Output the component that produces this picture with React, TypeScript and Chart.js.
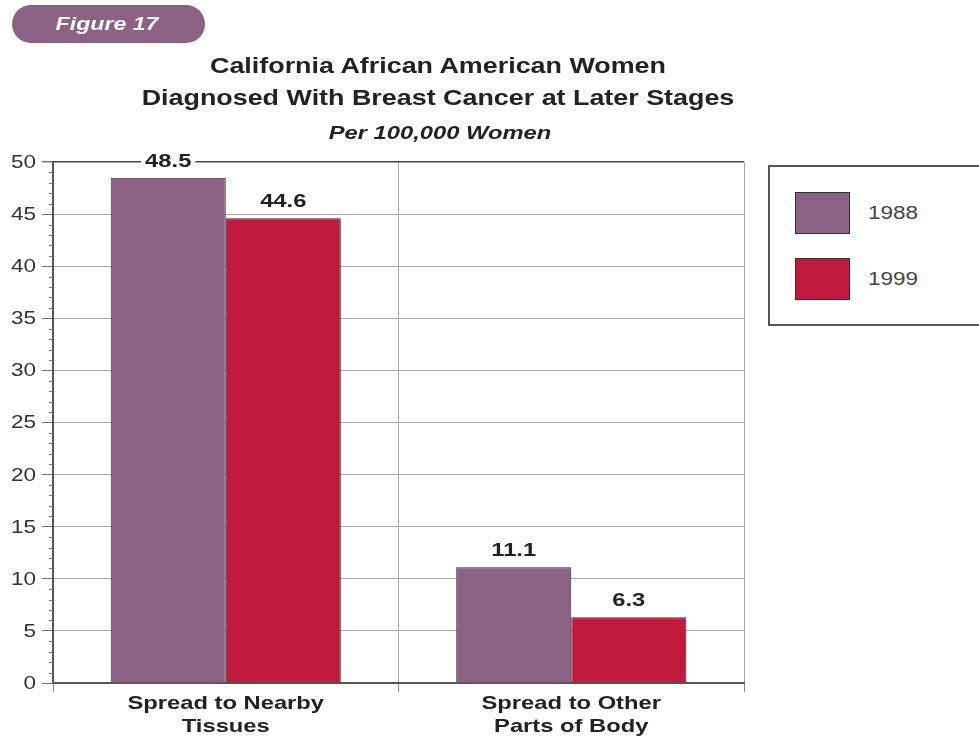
import React, { useEffect, useRef } from "react";
import { Chart, registerables } from "chart.js";

Chart.register(...registerables);

const categories: string[][] = [["Spread to Nearby", "Tissues"], ["Spread to Other", "Parts of Body"]];
const seriesNames = ["1988", "1999"];
const values1988 = [48.5, 11.1];
const values1999 = [44.6, 6.3];
const yTickValues = [0, 5, 10, 15, 20, 25, 30, 35, 40, 45, 50];
const seriesColors = ["#8B6283", "#C21A3C"];
const figureLabel = "Figure 17";
const titleLines = ["California African American Women", "Diagnosed With Breast Cancer at Later Stages"];
const subtitle = "Per 100,000 Women";

const FONT = "'Liberation Sans', Arial, sans-serif";
const SX = 1.25;

function stretchedText(ctx: any, txt: string, x: number, y: number, align: string) {
  ctx.save();
  ctx.translate(x, y);
  ctx.scale(SX, 1);
  ctx.textAlign = align;
  ctx.fillText(txt, 0, 0);
  ctx.restore();
}

const customText = {
  id: "customText",
  afterDraw(chart: any) {
    const ctx = chart.ctx;
    const y = chart.scales.y;
    const x = chart.scales.x;
    const left = chart.chartArea.left;
    ctx.save();
    ctx.strokeStyle = "#777";
    ctx.lineWidth = 1;
    for (let v = 0; v <= 50; v++) {
      if (v % 5 === 0) continue;
      const py = Math.round(y.getPixelForValue(v)) + 0.5;
      ctx.beginPath();
      ctx.moveTo(left - 4, py);
      ctx.lineTo(left, py);
      ctx.stroke();
    }
    ctx.fillStyle = "#333";
    ctx.font = `18px ${FONT}`;
    ctx.textBaseline = "middle";
    yTickValues.forEach((v) => {
      stretchedText(ctx, String(v), 36, y.getPixelForValue(v) + 1, "right");
    });
    ctx.fillStyle = "#222";
    ctx.font = `bold 19px ${FONT}`;
    ctx.textBaseline = "alphabetic";
    categories.forEach((lines, i) => {
      const px = x.getPixelForValue(i);
      lines.forEach((ln, j) => {
        stretchedText(ctx, ln, px, 709 + j * 23, "center");
      });
    });
    ctx.restore();
  },
  afterDatasetsDraw(chart: any) {
    const ctx = chart.ctx;
    ctx.save();
    ctx.font = `bold 19px ${FONT}`;
    ctx.textBaseline = "alphabetic";
    chart.data.datasets.forEach((ds: any, di: number) => {
      const meta = chart.getDatasetMeta(di);
      meta.data.forEach((bar: any, i: number) => {
        const txt = ds.data[i].toFixed(1);
        const bx = bar.x;
        const by = bar.y - 11;
        const w = ctx.measureText(txt).width * SX;
        ctx.fillStyle = "#fff";
        ctx.fillRect(bx - w / 2 - 4, by - 16, w + 8, 18);
        ctx.fillStyle = "#222";
        stretchedText(ctx, txt, bx, by, "center");
      });
    });
    ctx.restore();
  },
};

export default function App() {
  const ref = useRef<HTMLCanvasElement>(null);
  useEffect(() => {
    document.body.style.margin = "0";
    const chart = new Chart(ref.current!, {
      type: "bar",
      data: {
        labels: categories,
        datasets: [
          { label: seriesNames[0], data: values1988, backgroundColor: seriesColors[0], borderColor: "#3a2a35", borderWidth: 1 },
          { label: seriesNames[1], data: values1999, backgroundColor: seriesColors[1], borderColor: "#3a2a35", borderWidth: 1 },
        ],
      },
      options: {
        animation: false,
        responsive: false,
        maintainAspectRatio: false,
        layout: { padding: { top: 162, right: 235, left: 0, bottom: 0 } },
        plugins: { legend: { display: false }, title: { display: false }, tooltip: { enabled: false } },
        datasets: { bar: { categoryPercentage: 0.666, barPercentage: 1.0 } },
        scales: {
          x: {
            offset: true,
            grid: { offset: true, color: "#aaa", tickColor: "#888", tickLength: 9, lineWidth: 1 },
            border: { color: "#555", width: 2 },
            ticks: { display: false },
            afterFit(scale: any) { scale.height = 61; },
          },
          y: {
            min: 0,
            max: 50,
            ticks: { stepSize: 5, display: false },
            grid: { color: (c: any) => (c.tick && c.tick.value === 50 ? "#444" : "#aaa"), tickColor: "#777", tickLength: 11, lineWidth: (c: any) => (c.tick && c.tick.value === 50 ? 1.5 : 1) },
            border: { color: "#555", width: 2 },
            afterFit(scale: any) { scale.width = 53; },
          },
        },
      },
      plugins: [customText],
    });
    return () => chart.destroy();
  }, []);

  const stretch = { transform: `scaleX(${SX})`, transformOrigin: "center" } as const;

  return (
    <div style={{ position: "relative", width: 979, height: 744, background: "#fff", overflow: "hidden", fontFamily: FONT }}>
      <canvas ref={ref} width={979} height={744} style={{ position: "absolute", left: 0, top: 0 }} />
      <div style={{ position: "absolute", left: 12, top: 5, width: 193, height: 38, borderRadius: 19, background: "#8B6283" }} />
      <div style={{ position: "absolute", left: 0, width: 214, top: 5, height: 38, lineHeight: "38px", textAlign: "center", color: "#fff", fontStyle: "italic", fontWeight: "bold", fontSize: 18.5, whiteSpace: "nowrap", ...stretch }}>
        {figureLabel}
      </div>
      <div style={{ position: "absolute", left: 0, width: 876, top: 50, textAlign: "center", fontWeight: "bold", fontSize: 21.5, lineHeight: "32px", color: "#222", whiteSpace: "nowrap", ...stretch }}>
        {titleLines.map((t) => (<div key={t}>{t}</div>))}
      </div>
      <div style={{ position: "absolute", left: 0, width: 880, top: 122, textAlign: "center", fontWeight: "bold", fontStyle: "italic", fontSize: 19, color: "#222", whiteSpace: "nowrap", ...stretch }}>
        {subtitle}
      </div>
      <div style={{ position: "absolute", left: 768, top: 165, width: 240, height: 161, border: "2px solid #555", boxSizing: "border-box", background: "#fff" }}>
        {seriesNames.map((n, i) => (
          <div key={n} style={{ position: "absolute", left: 25, top: 25 + i * 66, display: "flex", alignItems: "center" }}>
            <div style={{ width: 55, height: 42, background: seriesColors[i], border: "1.5px solid #333", boxSizing: "border-box" }} />
            <span style={{ marginLeft: 18, fontSize: 18, color: "#444", display: "inline-block", transform: `scaleX(${SX})`, transformOrigin: "left center" }}>{n}</span>
          </div>
        ))}
      </div>
    </div>
  );
}
